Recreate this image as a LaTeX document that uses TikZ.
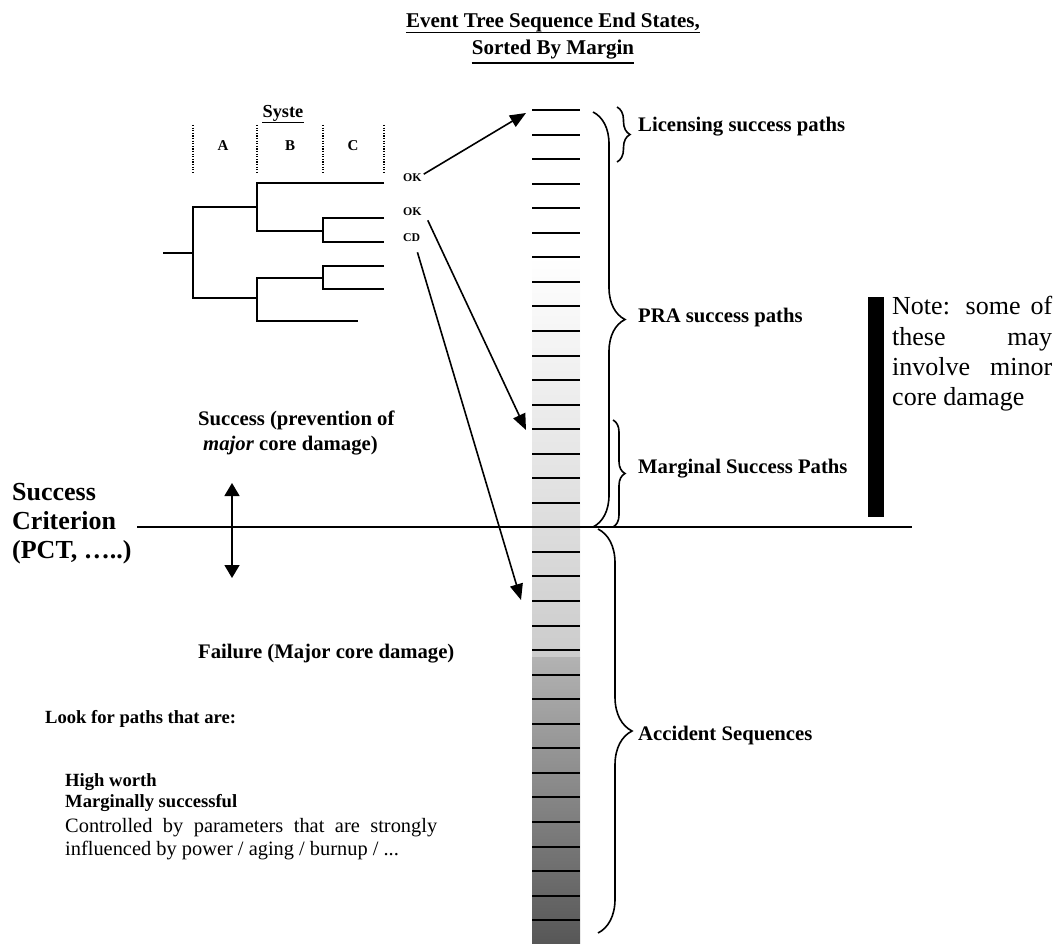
\documentclass[tikz,border=0pt]{standalone}
\usepackage{fontspec}
\setmainfont{Liberation Serif}
\usetikzlibrary{arrows.meta, decorations.pathreplacing, calc}

\begin{document}
\begin{tikzpicture}[
    x=1pt, y=-1pt,
    txt/.style={anchor=base west, inner sep=0pt},
    headline/.style={txt, anchor=base, font=\fontsize{21}{25}\selectfont\bfseries},
    lbl/.style={txt, font=\fontsize{20.7}{24}\selectfont\bfseries},
    biglbl/.style={txt, font=\fontsize{26}{30}\selectfont\bfseries},
    smalllbl/.style={txt, font=\fontsize{18.6}{22}\selectfont\bfseries},
    body/.style={txt, font=\fontsize{20.4}{24}\selectfont},
    notetext/.style={txt, font=\fontsize{26}{30}\selectfont},
    endstate/.style={txt, font=\fontsize{11.8}{14}\selectfont\bfseries},
    sysname/.style={txt, anchor=base, font=\fontsize{15}{18}\selectfont\bfseries},
    branch/.style={line width=2pt},
    divider/.style={line width=1.3pt, dash pattern=on 1.3pt off 1.3pt},
    tickline/.style={line width=2pt},
    pointer/.style={line width=1.6pt, -{Triangle[length=16pt, width=13pt]}},
    bracket/.style={line width=1.6pt, decorate, decoration={brace, amplitude=#1}}
]
    \useasboundingbox (0,0) rectangle (1057,944);

    % Title
    \node [headline] (head1) at (553,28) {Event Tree Sequence End States,};
    \node [headline] (head2) at (553,55) {Sorted By Margin};
    \draw [line width=1.4pt] (head1.south west) -- (head1.south east);
    \draw [line width=1.4pt] ($(head2.south west)+(0,3)$) -- ($(head2.south east)+(0,3)$);

    % Event tree
    \node [sysname, font=\fontsize{18.3}{21}\selectfont\bfseries] (sys) at (283,118) {Syste};
    \draw [line width=1.2pt] (sys.south west) -- (sys.south east);
    \node [sysname] (colA) at (223,151) {A};
    \node [sysname] (colB) at (290,151) {B};
    \node [sysname] (colC) at (353,151) {C};
    \foreach \x in {193,257,323,384} {
        \draw [divider] (\x,125) -- (\x,173);
    }

    \draw [branch] (163,253) -- (193,253);
    \draw [branch] (257,207) -| (193,298) -- (257,298);
    \draw [branch] (384,183) -| (257,231) -- (323,231);
    \draw [branch] (384,218) -| (323,242) -- (384,242);
    \draw [branch] (323,278) -| (257,321) -- (358,321);
    \draw [branch] (384,266) -| (323,289) -- (384,289);

    \node [endstate] (ok1) at (403,182) {OK};
    \node [endstate] (ok2) at (403,215) {OK};
    \node [endstate] (cd) at (403,241) {CD};

    % Sorted end states
    \shade [top color=white, bottom color=black!20] (532,257) rectangle (580,657);
    \shade [top color=black!30, bottom color=black!66] (532,657) rectangle (580,944);
    \foreach \i in {0,...,33} {
        \draw [tickline] (532,{110+24.55*\i}) -- (580,{110+24.55*\i});
    }

    \coordinate (hitTop) at (526,113);
    \coordinate (hitMid) at (526,430);
    \coordinate (hitLow) at (521,600);
    \draw [pointer] ($(ok1.east)+(2,-4)$) -- (hitTop);
    \draw [pointer] ($(ok2.south east)+(6,5)$) -- (hitMid);
    \draw [pointer] ($(cd.south east)+(-3,11)$) -- (hitLow);

    % Success criterion
    \coordinate (critL) at (137,527);
    \coordinate (critR) at (912,527);
    \draw [line width=1.5pt] (critL) -- (critR);
    \node [biglbl] (crit1) at (12,500) {Success};
    \node [biglbl] (crit2) at (12,529) {Criterion};
    \node [biglbl] (crit3) at (12,558) {(PCT, …..)};

    \coordinate (up) at (232,483);
    \coordinate (down) at (232,578);
    \draw [line width=1.5pt, {Triangle[length=13pt, width=15pt]}-{Triangle[length=13pt, width=15pt]}] (up) -- (down);

    \node [lbl] (succ1) at (198,425) {Success (prevention of};
    \node [lbl] (succ2) at (203,450) {\textit{major} core damage)};
    \node [lbl] (fail) at (198,658) {Failure (Major core damage)};

    % Braces
    \draw [bracket=13pt] (617,107) -- (617,162);
    \draw [bracket=32pt] (593,112) -- (593,527);
    \draw [bracket=12pt] (613,420) -- (613,527);
    \draw [bracket=34pt] (598,529) -- (598,933);

    \node [lbl] (licensing) at (638,132) {Licensing success paths};
    \node [lbl] (pra) at (638,322) {PRA success paths};
    \node [lbl] (marginal) at (638,473) {Marginal Success Paths};
    \node [lbl] (accident) at (638,740) {Accident Sequences};

    % Note
    \fill (868,297) rectangle (884,517);
    \node [notetext] (note1) at (892,314) {\makebox[160pt][s]{Note: some of}};
    \node [notetext] (note2) at (892,345) {\makebox[160pt][s]{these may}};
    \node [notetext] (note3) at (892,375) {\makebox[160pt][s]{involve minor}};
    \node [notetext] (note4) at (892,405) {core damage};

    % Look for
    \node [smalllbl] (look) at (45,723) {Look for paths that are:};
    \node [smalllbl] (worth) at (65,786) {High worth};
    \node [smalllbl] (marg) at (65,807) {Marginally successful};
    \node [body] (ctrl1) at (65,832) {\makebox[372pt][s]{Controlled by parameters that are strongly}};
    \node [body] (ctrl2) at (65,855) {influenced by power / aging / burnup / ...};

\end{tikzpicture}
\end{document}
